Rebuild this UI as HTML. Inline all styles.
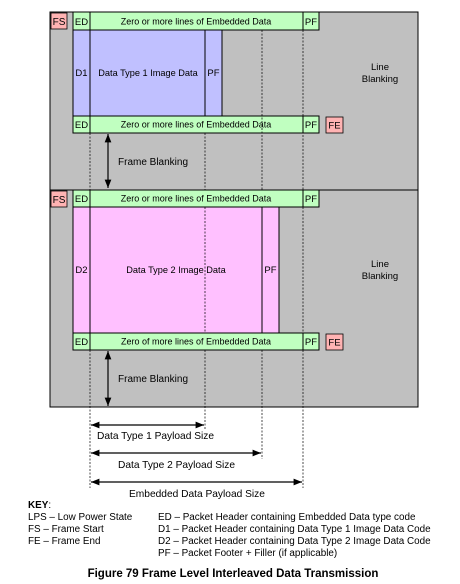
<!DOCTYPE html>
<html><head><meta charset="utf-8"><style>
html,body{margin:0;padding:0;background:#fff;}
svg{display:block;font-family:"Liberation Sans",Arial,sans-serif;}
</style></head><body>
<svg width="460" height="584" viewBox="0 0 460 584" xmlns="http://www.w3.org/2000/svg">
<defs>
<marker id="ah" viewBox="0 0 10 10" refX="10" refY="5" markerWidth="7" markerHeight="7" orient="auto-start-reverse"><path d="M0,1 L10,5 L0,9 z" fill="#000"/></marker>
</defs>
<rect x="50" y="12" width="368" height="178" fill="#c0c0c0" stroke="#000" stroke-width="1"/>
<rect x="50" y="190" width="368" height="217" fill="#c0c0c0" stroke="#000" stroke-width="1"/>

<rect x="51" y="13" width="16" height="16" fill="#ffb3b3" stroke="#000" stroke-width="0.8"/>
<text x="59" y="25" font-size="10" text-anchor="middle">FS</text>
<rect x="73" y="12" width="17" height="18" fill="#c0ffc0" stroke="#000"/>
<text x="81.5" y="25" font-size="9.5" text-anchor="middle">ED</text>
<rect x="90" y="12" width="213" height="18" fill="#c0ffc0" stroke="#000"/>
<text x="196" y="24.5" font-size="9" text-anchor="middle">Zero or more lines of Embedded Data</text>
<rect x="303" y="12" width="16" height="18" fill="#c0ffc0" stroke="#000"/>
<text x="311" y="25" font-size="9.5" text-anchor="middle">PF</text>

<rect x="73" y="30" width="17" height="86" fill="#c0c0ff" stroke="#000"/>
<text x="81.5" y="76" font-size="9.5" text-anchor="middle">D1</text>
<rect x="90" y="30" width="115" height="86" fill="#c0c0ff" stroke="#000"/>
<text x="148" y="76" font-size="9.2" text-anchor="middle">Data Type 1 Image Data</text>
<rect x="205" y="30" width="17" height="86" fill="#c0c0ff" stroke="#000"/>
<text x="213.5" y="76" font-size="9.5" text-anchor="middle">PF</text>

<rect x="73" y="116" width="17" height="17" fill="#c0ffc0" stroke="#000"/>
<text x="81.5" y="128" font-size="9.5" text-anchor="middle">ED</text>
<rect x="90" y="116" width="213" height="17" fill="#c0ffc0" stroke="#000"/>
<text x="196" y="127.5" font-size="9" text-anchor="middle">Zero or more lines of Embedded Data</text>
<rect x="303" y="116" width="16" height="17" fill="#c0ffc0" stroke="#000"/>
<text x="311" y="128" font-size="9.5" text-anchor="middle">PF</text>
<rect x="326" y="117" width="17" height="16" fill="#ffb3b3" stroke="#000" stroke-width="0.8"/>
<text x="334.5" y="128.5" font-size="9.5" text-anchor="middle">FE</text>

<text x="380" y="70" font-size="9.5" text-anchor="middle">Line</text>
<text x="380" y="82" font-size="9.5" text-anchor="middle">Blanking</text>

<line x1="108" y1="134" x2="108" y2="188" stroke="#000" stroke-width="1.2" marker-start="url(#ah)" marker-end="url(#ah)"/>
<text x="118" y="165" font-size="10">Frame Blanking</text>

<rect x="51" y="191" width="16" height="16" fill="#ffb3b3" stroke="#000" stroke-width="0.8"/>
<text x="59" y="203" font-size="10" text-anchor="middle">FS</text>
<rect x="73" y="190" width="17" height="17" fill="#c0ffc0" stroke="#000"/>
<text x="81.5" y="202" font-size="9.5" text-anchor="middle">ED</text>
<rect x="90" y="190" width="213" height="17" fill="#c0ffc0" stroke="#000"/>
<text x="196" y="201.5" font-size="9" text-anchor="middle">Zero or more lines of Embedded Data</text>
<rect x="303" y="190" width="16" height="17" fill="#c0ffc0" stroke="#000"/>
<text x="311" y="202" font-size="9.5" text-anchor="middle">PF</text>

<rect x="73" y="207" width="17" height="126" fill="#ffc0ff" stroke="#000"/>
<text x="81.5" y="273" font-size="9.5" text-anchor="middle">D2</text>
<rect x="90" y="207" width="172" height="126" fill="#ffc0ff" stroke="#000"/>
<text x="176" y="273" font-size="9.2" text-anchor="middle">Data Type 2 Image Data</text>
<rect x="262" y="207" width="17" height="126" fill="#ffc0ff" stroke="#000"/>
<text x="270.5" y="273" font-size="9.5" text-anchor="middle">PF</text>

<rect x="73" y="333" width="17" height="17" fill="#c0ffc0" stroke="#000"/>
<text x="81.5" y="345" font-size="9.5" text-anchor="middle">ED</text>
<rect x="90" y="333" width="213" height="17" fill="#c0ffc0" stroke="#000"/>
<text x="196" y="344.5" font-size="9" text-anchor="middle">Zero of more lines of Embedded Data</text>
<rect x="303" y="333" width="16" height="17" fill="#c0ffc0" stroke="#000"/>
<text x="311" y="345" font-size="9.5" text-anchor="middle">PF</text>
<rect x="326" y="334" width="17" height="16" fill="#ffb3b3" stroke="#000" stroke-width="0.8"/>
<text x="334.5" y="345.5" font-size="9.5" text-anchor="middle">FE</text>

<text x="380" y="267" font-size="9.5" text-anchor="middle">Line</text>
<text x="380" y="279" font-size="9.5" text-anchor="middle">Blanking</text>

<line x1="108" y1="351" x2="108" y2="406" stroke="#000" stroke-width="1.2" marker-start="url(#ah)" marker-end="url(#ah)"/>
<text x="118" y="382" font-size="10">Frame Blanking</text>

<g stroke="#000" stroke-width="0.7" stroke-dasharray="2,1.5">
<line x1="90" y1="133" x2="90" y2="190"/>
<line x1="205" y1="133" x2="205" y2="190"/>
<line x1="262" y1="30" x2="262" y2="190"/>
<line x1="303" y1="30" x2="303" y2="190"/>
<line x1="205" y1="207" x2="205" y2="333"/>
<line x1="303" y1="207" x2="303" y2="333"/>
<line x1="90" y1="350" x2="90" y2="488"/>
<line x1="205" y1="350" x2="205" y2="430"/>
<line x1="262" y1="350" x2="262" y2="459"/>
<line x1="303" y1="350" x2="303" y2="488"/>
</g>

<g stroke="#000" stroke-width="1.2">
<line x1="91" y1="425" x2="204" y2="425" marker-start="url(#ah)" marker-end="url(#ah)"/>
<line x1="91" y1="453" x2="261" y2="453" marker-start="url(#ah)" marker-end="url(#ah)"/>
<line x1="91" y1="482" x2="302" y2="482" marker-start="url(#ah)" marker-end="url(#ah)"/>
</g>
<text x="97" y="439" font-size="10.2">Data Type 1 Payload Size</text>
<text x="118" y="468" font-size="10.2">Data Type 2 Payload Size</text>
<text x="129" y="497" font-size="10.2">Embedded Data Payload Size</text>

<g font-size="9.9">
<text x="28" y="508" font-weight="bold">KEY<tspan font-weight="normal">:</tspan></text>
<text x="28" y="520">LPS – Low Power State</text>
<text x="28" y="532">FS – Frame Start</text>
<text x="28" y="544">FE – Frame End</text>
<text x="158" y="520">ED – Packet Header containing Embedded Data type code</text>
<text x="158" y="532">D1 – Packet Header containing Data Type 1 Image Data Code</text>
<text x="158" y="544">D2 – Packet Header containing Data Type 2 Image Data Code</text>
<text x="158" y="556">PF – Packet Footer + Filler (if applicable)</text>
</g>
<text x="233" y="577" font-size="11.5" font-weight="bold" text-anchor="middle">Figure 79 Frame Level Interleaved Data Transmission</text>
</svg>
</body></html>
